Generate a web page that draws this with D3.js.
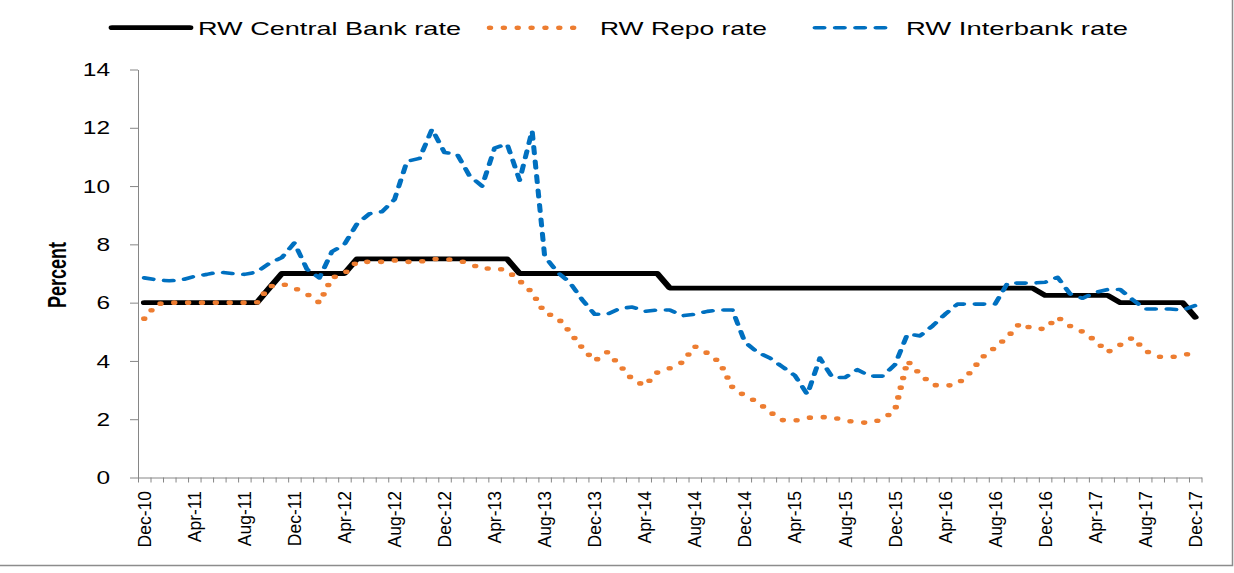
<!DOCTYPE html>
<html><head><meta charset="utf-8">
<script src="https://cdn.jsdelivr.net/npm/d3@7"></script>
<style>body{margin:0;background:#fff}svg{display:block}</style>
</head><body>
<svg id="chart" width="1234" height="573"></svg>
<script>
const months = [
 "Dec-10",
 "Jan-11","Feb-11","Mar-11","Apr-11","May-11","Jun-11","Jul-11","Aug-11","Sep-11","Oct-11","Nov-11","Dec-11",
 "Jan-12","Feb-12","Mar-12","Apr-12","May-12","Jun-12","Jul-12","Aug-12","Sep-12","Oct-12","Nov-12","Dec-12",
 "Jan-13","Feb-13","Mar-13","Apr-13","May-13","Jun-13","Jul-13","Aug-13","Sep-13","Oct-13","Nov-13","Dec-13",
 "Jan-14","Feb-14","Mar-14","Apr-14","May-14","Jun-14","Jul-14","Aug-14","Sep-14","Oct-14","Nov-14","Dec-14",
 "Jan-15","Feb-15","Mar-15","Apr-15","May-15","Jun-15","Jul-15","Aug-15","Sep-15","Oct-15","Nov-15","Dec-15",
 "Jan-16","Feb-16","Mar-16","Apr-16","May-16","Jun-16","Jul-16","Aug-16","Sep-16","Oct-16","Nov-16","Dec-16",
 "Jan-17","Feb-17","Mar-17","Apr-17","May-17","Jun-17","Jul-17","Aug-17","Sep-17","Oct-17","Nov-17","Dec-17"
];
const tickLabels = ["Dec-10","Apr-11","Aug-11","Dec-11","Apr-12","Aug-12","Dec-12","Apr-13","Aug-13","Dec-13","Apr-14",
 "Aug-14","Dec-14","Apr-15","Aug-15","Dec-15","Apr-16","Aug-16","Dec-16","Apr-17","Aug-17","Dec-17"];
const yTicks = [0,2,4,6,8,10,12,14];
const seriesNames = ["RW Central Bank rate","RW Repo rate","RW Interbank rate"];

const centralBank = [
 6,6,6,6,6,6,6,6,6,6,
 6.5,
 7,7,7,7,7,7,
 7.5,7.5,7.5,7.5,7.5,7.5,7.5,7.5,7.5,7.5,7.5,7.5,7.5,
 7,7,7,7,7,7,7,7,7,7,7,7,
 6.5,6.5,6.5,6.5,6.5,6.5,6.5,6.5,6.5,6.5,6.5,6.5,6.5,6.5,6.5,
 6.5,6.5,6.5,6.5,6.5,6.5,6.5,6.5,6.5,6.5,6.5,6.5,6.5,6.5,6.5,
 6.25,6.25,6.25,6.25,6.25,6.25,
 6,6,6,6,6,6,
 5.5
];
const repo = [
 5.45,5.95,6.0,6.0,6.0,6.0,6.0,6.0,6.0,6.0,
 6.55,6.65,6.5,6.3,6.0,6.85,7.0,7.4,7.4,7.4,
 7.45,7.4,7.4,7.5,7.5,7.45,7.35,7.15,7.2,7.1,
 6.75,6.35,5.65,5.5,5.0,4.45,4.0,4.3,3.85,3.37,
 3.15,3.6,3.75,3.95,4.5,4.27,3.95,3.1,2.8,2.6,
 2.25,1.97,1.95,2.05,2.07,2.07,1.95,1.9,1.87,2.0,
 2.3,4.0,3.55,3.18,3.14,3.2,3.6,4.13,4.46,4.82,
 5.3,5.1,5.1,5.5,5.2,5.0,4.7,4.3,4.55,4.8,
 4.35,4.15,4.12,4.2,4.28
];
const interbank = [
 6.85,6.78,6.75,6.78,6.9,6.97,7.05,7.0,6.97,7.05,
 7.35,7.55,8.05,7.15,6.85,7.75,8.0,8.7,9.05,9.12,
 9.54,10.85,10.95,11.95,11.15,11.1,10.35,10.0,11.3,11.45,
 10.2,11.9,7.6,7.05,6.7,6.1,5.6,5.6,5.8,5.85,
 5.7,5.75,5.75,5.55,5.6,5.7,5.75,5.75,4.65,4.3,
 4.1,3.8,3.5,2.85,4.1,3.43,3.43,3.7,3.48,3.48,
 3.87,4.92,4.86,5.2,5.6,5.95,5.95,5.95,5.95,6.67,
 6.67,6.67,6.7,6.87,6.3,6.15,6.35,6.45,6.45,6.1,
 5.78,5.78,5.78,5.75,5.9
];

const svg = d3.select("#chart");
const SX = 1.4;            // horizontal stretch of the original picture
const plotLeft = 138, plotRight = 1201.5, plotTop = 69.5, plotBottom = 477.5;
const axisColor = "#868686";
const colors = ["#000000", "#ED7D31", "#0070C0"];

const x = d3.scalePoint().domain(months).range([plotLeft, plotRight]).padding(0.5);
const xb = d3.scaleLinear().domain([0, months.length]).range([plotLeft, plotRight]);
const y = d3.scaleLinear().domain([0, 14]).range([plotBottom, plotTop]);

// outer chart border (right & bottom)
svg.append("path").attr("d", "M0,565.5H1232.5V0")
  .attr("fill", "none").attr("stroke", "#8c8c8c").attr("stroke-width", 1.5);

// Y axis
const yAxis = svg.append("g").attr("transform", `translate(${plotLeft},0)`)
  .call(d3.axisLeft(y).tickValues(yTicks).tickSize(8).tickSizeOuter(0));
yAxis.select(".domain").attr("stroke", axisColor);
yAxis.selectAll(".tick line").attr("stroke", axisColor);
yAxis.selectAll(".tick text")
  .attr("x", null).attr("dy", "0.35em")
  .attr("transform", `translate(-28,0) scale(${SX},1)`)
  .attr("fill", "#000")
  .style("font-family", "'Liberation Sans', Arial, sans-serif")
  .style("font-size", "17.5px");

// X axis minor ticks at category boundaries
const xAxis = svg.append("g").attr("transform", `translate(0,${plotBottom})`)
  .call(d3.axisBottom(xb).tickValues(d3.range(months.length + 1)).tickSize(5).tickSizeOuter(0).tickFormat(""));
xAxis.select(".domain").attr("stroke", axisColor);
xAxis.selectAll(".tick line").attr("stroke", axisColor);

// X axis labels
const xLab = svg.append("g").attr("transform", `translate(0,${plotBottom})`)
  .call(d3.axisBottom(x).tickValues(tickLabels).tickSize(0));
xLab.select(".domain").remove();
xLab.selectAll(".tick text")
  .attr("y", null).attr("dy", "0.35em")
  .attr("text-anchor", "end")
  .attr("transform", "translate(0,13.5) rotate(-90)")
  .attr("fill", "#000")
  .style("font-family", "'Liberation Sans', Arial, sans-serif")
  .style("font-size", "17.5px");

// Y title
svg.append("text")
  .attr("transform", `translate(57,275) scale(${SX},1) rotate(-90)`)
  .attr("text-anchor", "middle").attr("dy", "0.35em")
  .style("font-family", "'Liberation Sans', Arial, sans-serif")
  .style("font-size", "18px").style("font-weight", "bold")
  .text("Percent");

// Series (drawn in horizontally stretched space)
const plot = svg.append("g").attr("transform", `scale(${SX},1)`);
const line = d3.line().x((d, i) => x(months[i]) / SX).y(d => y(d));

const styles = [
  {w: 4.8, dash: null, cap: "round"},
  {w: 4.6, dash: "0 9.9", cap: "round"},
  {w: 3.6, dash: "6.5 8", cap: "round"}
];
const data = [centralBank, repo, interbank];
data.forEach((s, k) => {
  plot.append("path").datum(s)
    .attr("d", line)
    .attr("fill", "none")
    .attr("stroke", colors[k])
    .attr("stroke-width", styles[k].w)
    .attr("stroke-linejoin", "round")
    .attr("stroke-linecap", styles[k].cap)
    .attr("stroke-dasharray", styles[k].dash);
});

// Legend
const legY = 27.7;
const legSym = [[112, 190], [490, 585], [815, 895]];
const legText = [[198, 263], [600, 167], [906, 222]];
seriesNames.forEach((n, k) => {
  plot.append("line")
    .attr("x1", legSym[k][0] / SX).attr("x2", legSym[k][1] / SX)
    .attr("y1", legY).attr("y2", legY)
    .attr("stroke", colors[k])
    .attr("stroke-width", styles[k].w)
    .attr("stroke-linecap", styles[k].cap)
    .attr("stroke-dasharray", styles[k].dash);
  svg.append("text")
    .attr("x", legText[k][0]).attr("y", legY + 7)
    .attr("textLength", legText[k][1]).attr("lengthAdjust", "spacingAndGlyphs")
    .style("font-family", "'Liberation Sans', Arial, sans-serif")
    .style("font-size", "19px")
    .text(n);
});
</script>
</body></html>
